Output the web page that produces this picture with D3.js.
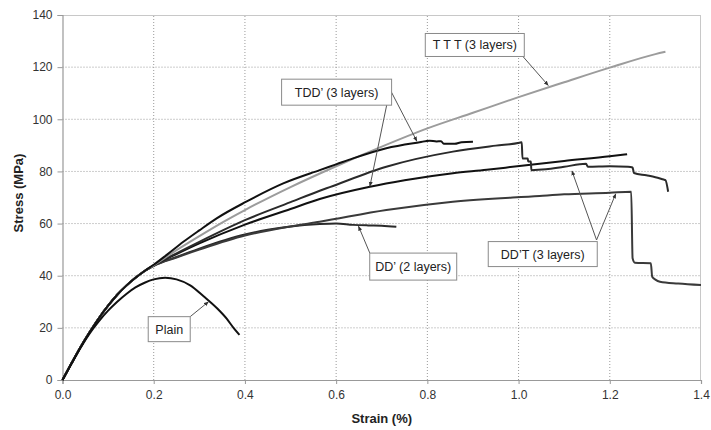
<!DOCTYPE html>
<html><head><meta charset="utf-8">
<script src="https://cdn.jsdelivr.net/npm/d3@7"></script>
<style>
html,body{margin:0;padding:0;background:#fff;}
svg{display:block;font-family:"Liberation Sans",Arial,sans-serif;}
</style></head>
<body>
<svg id="chart" width="711" height="430"></svg>
<script>
// ---- data (strain %, stress MPa) ----
const xTicks = [0.0, 0.2, 0.4, 0.6, 0.8, 1.0, 1.2, 1.4];
const yTicks = [0, 20, 40, 60, 80, 100, 120, 140];

const startStrain = [0, 0.02, 0.04, 0.06, 0.08, 0.10, 0.12, 0.14, 0.16, 0.18];
const startStress = [0, 6.5, 12.8, 18.5, 23.8, 28.5, 32.7, 36.2, 39.2, 41.8];

const plainStrain = [0, 0.02, 0.04, 0.06, 0.08, 0.10, 0.12, 0.14, 0.16, 0.18, 0.20, 0.225, 0.25, 0.28, 0.31, 0.34, 0.36, 0.375, 0.388];
const plainStress = [0, 6.3, 12.5, 18.0, 22.6, 26.6, 30.0, 33.0, 35.5, 37.3, 38.6, 39.2, 38.6, 36.3, 32.0, 27.3, 23.5, 20.0, 17.3];

const tddAStrain = [0.20, 0.23, 0.265, 0.30, 0.338, 0.403, 0.484, 0.564, 0.60, 0.637, 0.71, 0.783, 0.805, 0.82, 0.83, 0.836, 0.86, 0.875, 0.90];
const tddAStress = [44.2, 48.2, 53.0, 57.4, 62.0, 68.4, 75.4, 80.5, 82.7, 85.0, 88.9, 91.2, 91.8, 91.5, 91.6, 90.6, 90.6, 91.2, 91.4];

const tttStrain = [0.20, 0.25, 0.30, 0.35, 0.40, 0.50, 0.60, 0.70, 0.80, 0.90, 1.00, 1.10, 1.20, 1.30, 1.322];
const tttStress = [44.0, 49.8, 55.2, 60.4, 65.2, 74.0, 82.0, 89.5, 96.5, 102.5, 108.5, 114.2, 119.8, 125.0, 125.9];

const ddtAStrain = [0.20, 0.25, 0.30, 0.40, 0.50, 0.564, 0.586, 0.71, 0.856, 0.95, 1.002, 1.007, 1.0085, 1.02, 1.021, 1.027, 1.028, 1.06, 1.10, 1.148, 1.152, 1.20, 1.24, 1.25, 1.253, 1.28, 1.30, 1.318, 1.322, 1.328];
const ddtAStress = [44.0, 48.6, 53.0, 61.3, 68.2, 72.6, 74.0, 81.8, 87.6, 89.9, 91.0, 91.2, 85.0, 85.0, 83.8, 83.8, 80.5, 80.8, 81.8, 82.9, 81.8, 82.0, 81.8, 81.5, 79.4, 78.5, 77.8, 76.9, 76.7, 72.2];

const tddBStrain = [0.20, 0.25, 0.30, 0.40, 0.50, 0.564, 0.674, 0.75, 0.856, 0.93, 1.002, 1.10, 1.20, 1.238];
const tddBStress = [44.0, 48.3, 52.4, 59.6, 65.6, 69.4, 74.1, 76.6, 79.3, 80.6, 82.1, 84.0, 85.8, 86.6];

const ddtBStrain = [0.20, 0.25, 0.30, 0.40, 0.50, 0.564, 0.71, 0.856, 1.046, 1.10, 1.20, 1.247, 1.250, 1.255, 1.29, 1.293, 1.30, 1.31, 1.35, 1.40];
const ddtBStress = [43.8, 47.0, 50.0, 55.4, 58.9, 60.7, 65.2, 68.4, 70.6, 71.2, 71.8, 72.2, 46.7, 45.0, 44.8, 39.6, 38.5, 37.7, 37.0, 36.4];

const ddStrain = [0.20, 0.25, 0.30, 0.40, 0.45, 0.50, 0.564, 0.60, 0.637, 0.67, 0.70, 0.732];
const ddStress = [43.8, 47.2, 50.4, 55.8, 57.6, 58.9, 59.8, 60.0, 59.5, 59.3, 59.2, 58.8];

// annotation labels
const labelTexts = ["T T T (3 layers)", "TDD\u2019 (3 layers)", "DD\u2019T (3 layers)", "DD\u2019 (2 layers)", "Plain"];

// ---- chart ----
const svg = d3.select("#chart");
const W = 711, H = 430;
const x = d3.scaleLinear().domain([0, 1.4]).range([62.5, 701]);
const y = d3.scaleLinear().domain([0, 140]).range([380, 15]);

// grid
const grid = svg.append("g");
grid.selectAll("line.h").data(yTicks.filter(d => d > 0 && d < 140)).join("line")
  .attr("x1", x(0)).attr("x2", x(1.4)).attr("y1", d => y(d)).attr("y2", d => y(d))
  .attr("stroke", "#9a9a9a").attr("stroke-width", 1).attr("stroke-dasharray", "1,2");
grid.selectAll("line.v").data(xTicks.filter(d => d > 0 && d < 1.4)).join("line")
  .attr("x1", d => x(d)).attr("x2", d => x(d)).attr("y1", y(0)).attr("y2", y(140))
  .attr("stroke", "#9a9a9a").attr("stroke-width", 1).attr("stroke-dasharray", "1,2");

// frame top/right
svg.append("line").attr("x1", x(0)).attr("x2", x(1.4)).attr("y1", y(140)+0.5).attr("y2", y(140)+0.5)
  .attr("stroke", "#c8c8c8").attr("stroke-width", 1);
svg.append("line").attr("x1", x(1.4)-0.5).attr("x2", x(1.4)-0.5).attr("y1", y(140)).attr("y2", y(0))
  .attr("stroke", "#c8c8c8").attr("stroke-width", 1);

// axes
const xAxis = d3.axisBottom(x).tickValues(xTicks).tickFormat(d3.format(".1f")).tickSize(4).tickPadding(6);
const yAxis = d3.axisLeft(y).tickValues(yTicks).tickFormat(d3.format("d")).tickSize(5).tickPadding(5);
const gx = svg.append("g").attr("transform", `translate(0,${y(0)})`).call(xAxis);
const gy = svg.append("g").attr("transform", `translate(${x(0)},0)`).call(yAxis);
[gx, gy].forEach(g => {
  g.select(".domain").attr("stroke", "#999").attr("stroke-width", 1.2);
  g.selectAll(".tick line").attr("stroke", "#999");
  g.selectAll(".tick text").attr("fill", "#333").style("font-size", "12px")
    .style("font-family", "'Liberation Sans', Arial, sans-serif");
});

svg.append("text").attr("x", (x(0)+x(1.4))/2).attr("y", 423).attr("text-anchor", "middle")
  .style("font-size", "13px").style("font-weight", "bold").attr("fill", "#222").text("Strain (%)");
svg.append("text").attr("transform", "translate(23,193) rotate(-90)").attr("text-anchor", "middle")
  .style("font-size", "13px").style("font-weight", "bold").attr("fill", "#222").text("Stress (MPa)");

// curves
const zipPts = (xs, ys) => xs.map((v, i) => [v, ys[i]]);
const withStart = (xs, ys) => zipPts(startStrain, startStress).concat(zipPts(xs, ys));
const line = d3.line().x(d => x(d[0])).y(d => y(d[1])).curve(d3.curveMonotoneX);

const series = [
  {pts: withStart(ddStrain, ddStress), color: "#2a2a2a", w: 2},
  {pts: withStart(ddtBStrain, ddtBStress), color: "#3a3a3a", w: 2},
  {pts: withStart(tddBStrain, tddBStress), color: "#111", w: 2},
  {pts: withStart(ddtAStrain, ddtAStress), color: "#2a2a2a", w: 2},
  {pts: withStart(tttStrain, tttStress), color: "#9c9c9c", w: 2},
  {pts: withStart(tddAStrain, tddAStress), color: "#111", w: 2},
  {pts: zipPts(plainStrain, plainStress), color: "#111", w: 2}
];
svg.append("g").selectAll("path").data(series).join("path")
  .attr("d", d => line(d.pts)).attr("fill", "none")
  .attr("stroke", d => d.color).attr("stroke-width", d => d.w)
  .attr("stroke-linejoin", "round");

// annotations (box centre, size in px, arrows from -> to in data units)
const notes = [
  {t: labelTexts[0], cx: 0.904, cy: 128.5, w: 99, h: 23, arrows: [[[1.010, 124.0], [1.065, 113.0]]]},
  {t: labelTexts[1], cx: 0.601, cy: 110.4, w: 110, h: 26, arrows: [[[0.718, 111.5], [0.777, 91.6]], [[0.718, 111.5], [0.674, 74.3]]]},
  {t: labelTexts[2], cx: 1.053, cy: 48.3, w: 109, h: 25, arrows: [[[1.171, 53.7], [1.117, 80.2]], [[1.171, 53.7], [1.213, 71.4]]]},
  {t: labelTexts[3], cx: 0.769, cy: 43.5, w: 87, h: 27, arrows: [[[0.674, 48.6], [0.649, 59.0]]]},
  {t: labelTexts[4], cx: 0.234, cy: 19.5, w: 42, h: 25, arrows: [[[0.280, 24.3], [0.320, 30.0]]]}
];
const defs = svg.append("defs");
defs.append("marker").attr("id", "ah").attr("viewBox", "0 0 10 10").attr("refX", 9).attr("refY", 5)
  .attr("markerWidth", 5).attr("markerHeight", 5).attr("orient", "auto")
  .append("path").attr("d", "M0,1 L10,5 L0,9 Z").attr("fill", "#333");

const ng = svg.append("g");
notes.forEach(n => {
  n.arrows.forEach(a => {
    ng.append("line").attr("x1", x(a[0][0])).attr("y1", y(a[0][1]))
      .attr("x2", x(a[1][0])).attr("y2", y(a[1][1]))
      .attr("stroke", "#555").attr("stroke-width", 1).attr("marker-end", "url(#ah)");
  });
});
notes.forEach(n => {
  ng.append("rect").attr("x", x(n.cx) - n.w/2).attr("y", y(n.cy) - n.h/2)
    .attr("width", n.w).attr("height", n.h).attr("fill", "#fff")
    .attr("stroke", "#8a8a8a").attr("stroke-width", 1);
  ng.append("text").attr("x", x(n.cx)).attr("y", y(n.cy)).attr("dy", "0.36em")
    .attr("text-anchor", "middle").style("font-size", "12.5px").attr("fill", "#222").text(n.t);
});
</script>
</body></html>
